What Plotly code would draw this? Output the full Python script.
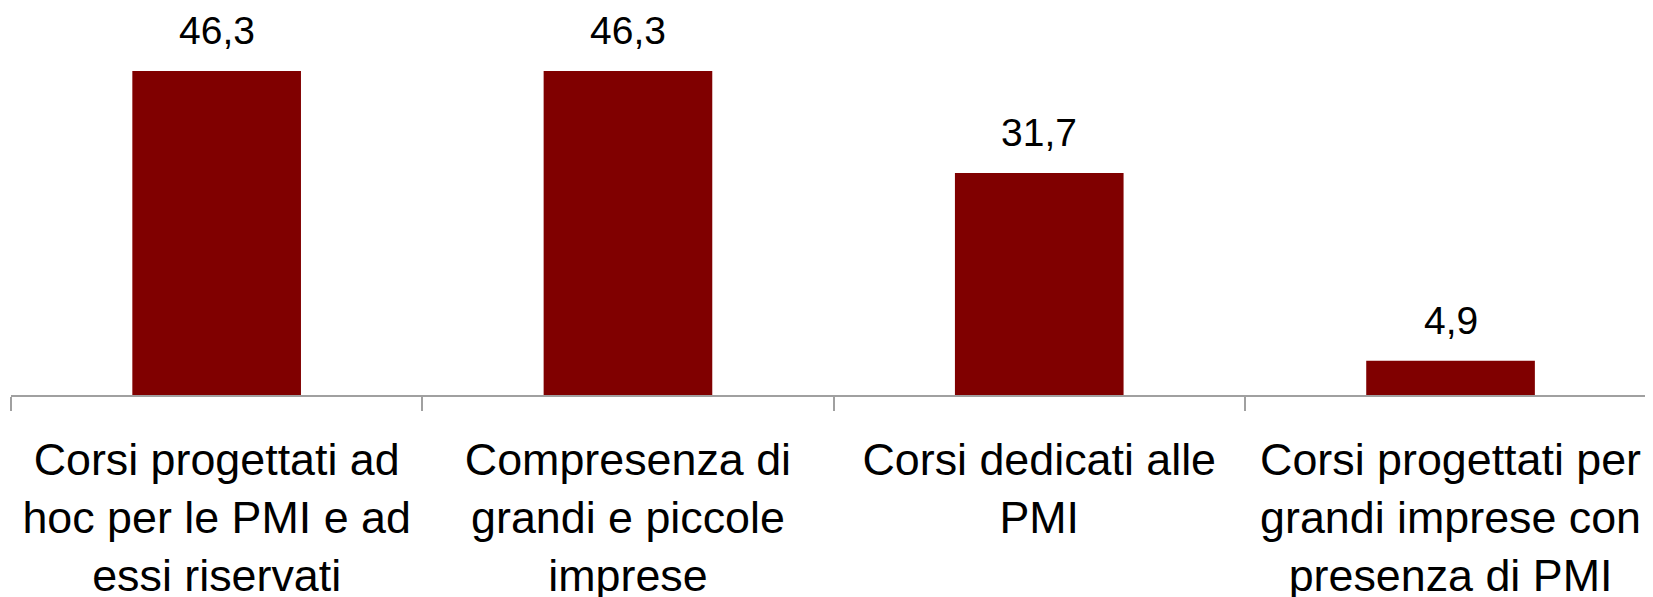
import plotly.graph_objects as go

categories = [
    "Corsi progettati ad<br>hoc per le PMI e ad<br>essi riservati",
    "Compresenza di<br>grandi e piccole<br>imprese",
    "Corsi dedicati alle<br>PMI",
    "Corsi progettati per<br>grandi imprese con<br>presenza di PMI",
]
values = [46.3, 46.3, 31.7, 4.9]
value_labels = ["46,3", "46,3", "31,7", "4,9"]

FONT = "Liberation Sans, Arial, sans-serif"

# the page body has an 8px margin, so the figure is made 8px smaller
fig = go.Figure()
fig.add_trace(go.Bar(
    x=categories,
    y=values,
    width=0.41,
    marker=dict(color="#800000", line=dict(width=0)),
    hoverinfo="skip",
))

# value labels above the bars
for cat, v, lab in zip(categories, values, value_labels):
    fig.add_annotation(
        x=cat, y=v, text=lab, showarrow=False,
        yanchor="bottom", yshift=17,
        font=dict(family=FONT, size=39, color="#000000"),
    )

fig.update_layout(
    width=1645, height=589,
    margin=dict(l=3, r=0, t=0, b=202),
    paper_bgcolor="white", plot_bgcolor="white",
    showlegend=False,
    bargap=0.59,
    xaxis=dict(
        range=[-0.5, -0.5 + 1642 / 411.3],
        automargin=False,
        showline=True, linecolor="#a0a0a0", linewidth=1.5,
        ticks="outside", tickson="boundaries", ticklen=14,
        tickcolor="#a0a0a0", tickwidth=1.5,
        ticklabelstandoff=24,
        showgrid=False, zeroline=False,
        tickfont=dict(family=FONT, size=44.8, color="#000000"),
    ),
    yaxis=dict(
        range=[0, 387 / 7.0],
        automargin=False,
        visible=False, showgrid=False, zeroline=False,
    ),
)

fig.write_html("out.html")
